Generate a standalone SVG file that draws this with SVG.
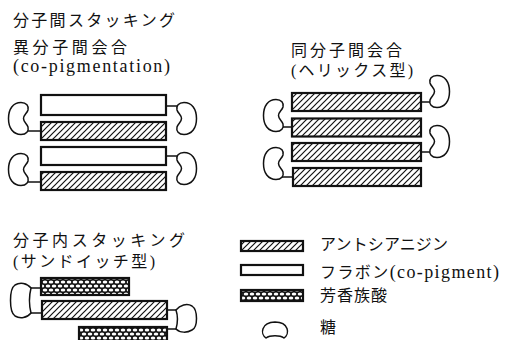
<svg xmlns="http://www.w3.org/2000/svg" xmlns:xlink="http://www.w3.org/1999/xlink" width="508" height="340" viewBox="0 0 508 340">
<style>
text{font-family:"Liberation Serif","Noto Sans CJK JP",serif;font-size:16px;fill:#111}
.lat{font-size:18px}
.bar{stroke:#111;stroke-width:2.2}
.white{fill:#fff}
.hatch{fill:url(#hatch)}
.cross{fill:url(#cross)}
.sugar{fill:#fff;stroke:#111;stroke-width:1.5}
.link{stroke:#111;stroke-width:1.5;fill:none}
</style>
<defs>
<pattern id="hatch" patternUnits="userSpaceOnUse" width="6" height="6">
<rect width="6" height="6" fill="#fff"/>
<path d="M-1,7 L7,-1 M-1,1 L1,-1 M5,7 L7,5" stroke="#111" stroke-width="1.2"/>
</pattern>
<pattern id="cross" patternUnits="userSpaceOnUse" width="6" height="8">
<rect width="6" height="8" fill="#111"/>
<ellipse cx="3" cy="2" rx="2.3" ry="1.5" fill="#fff"/>
<ellipse cx="0" cy="6" rx="2.3" ry="1.5" fill="#fff"/>
<ellipse cx="6" cy="6" rx="2.3" ry="1.5" fill="#fff"/>
</pattern>
<path id="sugarL" class="sugar" d="M13,0.5 C18.5,0.5 21,4 20,8 C19,11.5 15.5,13 15.5,16.5 C15.5,20 19,21.5 20,25 C21,29 18.5,32.5 13,32.5 C5,32.5 0.5,26 0.5,16.5 C0.5,7 5,0.5 13,0.5 Z"/>
<path id="sugarR" class="sugar" d="M7,0.5 C1.5,0.5 -1,4 0,8 C1,11.5 4.5,13 4.5,16.5 C4.5,20 1,21.5 0,25 C-1,29 1.5,32.5 7,32.5 C15,32.5 19.5,26 19.5,16.5 C19.5,7 15,0.5 7,0.5 Z"/>
</defs>
<rect width="508" height="340" fill="#fff"/>

<g id="titles">
<text x="13" y="25.5" textLength="162">分子間スタッキング</text>
<text x="13" y="53" textLength="114">異分子間会合</text>
<text class="lat" x="13" y="72" textLength="157">(co-pigmentation)</text>
<text x="291" y="56" textLength="111">同分子間会合</text>
<text x="291" y="76" textLength="122">(ヘリックス型)</text>
<text x="13" y="246" textLength="172">分子内スタッキング</text>
<text x="13" y="267" textLength="142">(サンドイッチ型)</text>
</g>

<g id="connectors">
<line class="link" x1="25" y1="131" x2="41" y2="131"/>
<line class="link" x1="25" y1="182" x2="41" y2="182"/>
<line class="link" x1="166" y1="106" x2="179" y2="106"/>
<line class="link" x1="166" y1="156" x2="179" y2="156"/>
<line class="link" x1="420" y1="102" x2="431" y2="102"/>
<line class="link" x1="420" y1="152" x2="431" y2="152"/>
<line class="link" x1="280" y1="127" x2="292" y2="127"/>
<line class="link" x1="280" y1="177" x2="292" y2="177"/>
<line class="link" x1="30" y1="288" x2="41" y2="288"/>
<line class="link" x1="30" y1="313" x2="42" y2="313"/>
<line class="link" x1="167" y1="310" x2="177" y2="310"/>
<line class="link" x1="167" y1="329" x2="177" y2="329"/>
</g>

<g id="copigmentation">
<rect class="bar white" x="41" y="95" width="125" height="20"/>
<rect class="bar hatch" x="41" y="122" width="125" height="18"/>
<rect class="bar white" x="41" y="147" width="125" height="18"/>
<rect class="bar hatch" x="41" y="172" width="125" height="18"/>
<use xlink:href="#sugarL" x="8" y="102"/>
<use xlink:href="#sugarL" x="8" y="153"/>
<use xlink:href="#sugarR" x="177" y="102"/>
<use xlink:href="#sugarR" x="177" y="152"/>
</g>

<g id="helix">
<rect class="bar hatch" x="292" y="93" width="129" height="18"/>
<rect class="bar hatch" x="292" y="118.5" width="129" height="18"/>
<rect class="bar hatch" x="292" y="143" width="129" height="18"/>
<rect class="bar hatch" x="293" y="168" width="128" height="18"/>
<use xlink:href="#sugarR" x="430" y="75"/>
<use xlink:href="#sugarR" x="430" y="125"/>
<use xlink:href="#sugarL" x="263" y="99"/>
<use xlink:href="#sugarL" x="263" y="147"/>
</g>

<g id="sandwich">
<rect class="bar cross" x="41" y="278" width="88" height="17"/>
<rect class="bar hatch" x="42" y="301" width="125" height="18"/>
<rect class="bar cross" x="79" y="327" width="88" height="20"/>
<path class="sugar" d="M31,288 C27,283 20,282 15,285 C9,289 9,312 15,316 C20,319 27,318 31,313 C29,305 29,296 31,288 Z"/>
<path class="sugar" d="M176,310 C180,305 187,303 192,306 C198,310 198,327 192,330 C187,333 180,333 176,329 C178,322 178,316 176,310 Z"/>
</g>

<g id="legend">
<rect class="bar hatch" x="241" y="241" width="62" height="10"/>
<rect class="bar white" x="241" y="265" width="62" height="10"/>
<rect class="bar cross" x="241" y="290" width="62" height="11"/>
<path class="sugar" d="M266,338 C260,334 261,322.5 275,322 C289,322 290,334 284,338 C280,335 270,335 266,338 Z"/>
<text x="320" y="250" textLength="128">アントシアニジン</text>
<text x="320" y="278" textLength="179">フラボン<tspan class="lat">(co-pigment)</tspan></text>
<text x="320" y="301" textLength="67">芳香族酸</text>
<text x="320" y="333">糖</text>
</g>
</svg>
